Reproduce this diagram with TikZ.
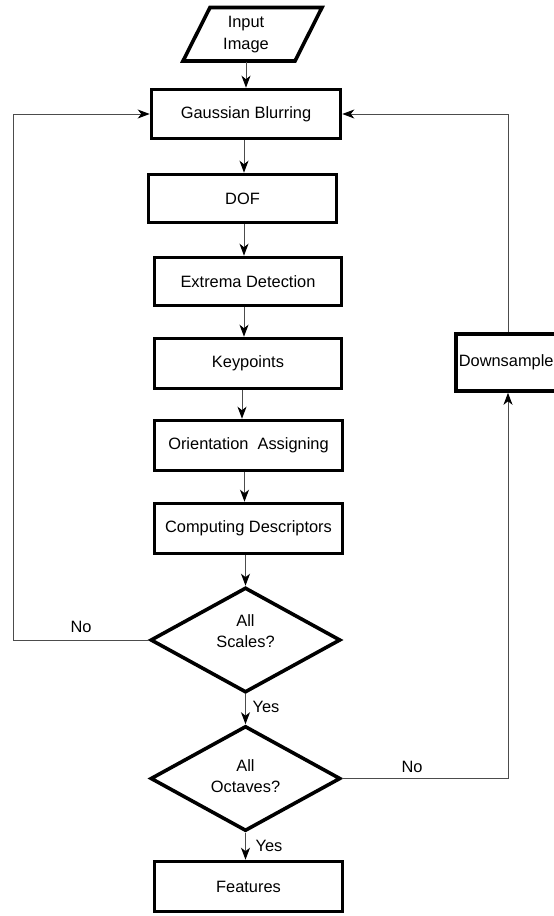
\documentclass[tikz,border=0pt]{standalone}
\usepackage{fontspec}
\setmainfont{Liberation Sans}
\usetikzlibrary{arrows.meta,shapes.geometric,calc}
\begin{document}
\begin{tikzpicture}[x=1pt,y=-1pt,
  every node/.style={font=\fontsize{16.4}{21.5}\selectfont},
  procbox/.style={draw=black,line width=3.6pt,inner sep=0pt,minimum width=188pt,minimum height=50pt},
  decide/.style={draw=black,line width=3.6pt,diamond,inner sep=0pt,minimum width=190pt,minimum height=105pt},
  flow/.style={draw=black!70,line width=1pt,-{Stealth[length=12pt,width=9pt,inset=3.5pt,color=black]}},
  lbl/.style={inner sep=0pt}]
\useasboundingbox (0,0) rectangle (554,916);
% input parallelogram
\draw[line width=3.6pt,line join=miter] (210,7.5)--(322,7.5)--(295,61)--(183,61)--cycle;
\node[inner sep=0pt,minimum height=54pt,align=center] (in) at (246,34.5) {Input\\Image};
\node[procbox,minimum width=189pt,minimum height=49pt] (gauss) at (246,114) {Gaussian Blurring};
\node[procbox,minimum height=48pt] (dof) at (242.5,198.5) {DOF};
\node[procbox,minimum width=187pt,minimum height=48pt] (ext) at (248,281.5) {Extrema Detection};
\node[procbox,minimum width=187pt] (key) at (248,363.5) {Keypoints};
\node[procbox] (ori) at (248.5,445.5) {Orientation\ \ Assigning};
\node[procbox] (comp) at (248.5,528.5) {Computing Descriptors};
\node[decide] (scales) at (245.5,640) {};
\node[lbl,align=center] (scalestxt) at (245.5,631) {All\\Scales?};
\node[decide] (oct) at (245.5,778.5) {};
\node[lbl,align=center] (octtxt) at (245.5,776) {All\\Octaves?};
\node[procbox] (feat) at (248.5,886.5) {Features};
\node[draw=black,line width=3.6pt,anchor=west,inner xsep=3pt,inner ysep=0pt,minimum height=57pt,text width=106pt,align=left] (down) at (454,362.5) {Downsample};
\coordinate (lx) at (13,0);
\coordinate (rx) at (508,0);
% labels
\node[lbl] (no1) at (81,627) {No};
\node[lbl] (yes1) at (266,707) {Yes};
\node[lbl] (no2) at (412,767) {No};
\node[lbl] (yes2) at (269,846) {Yes};
% connectors
\draw[flow] (in.south) -- (in.south |- gauss.north);
\draw[flow] ([xshift=-2pt]gauss.south) -- ([xshift=-2pt]gauss.south |- dof.north);
\draw[flow] ([xshift=1.5pt]dof.south) -- ([xshift=1.5pt]dof.south |- ext.north);
\draw[flow] ([xshift=-4pt]ext.south) -- ([xshift=-4pt]ext.south |- key.north);
\draw[flow] ([xshift=-6pt]key.south) -- ([xshift=-6pt]key.south |- ori.north);
\draw[flow] ([xshift=-4pt]ori.south) -- ([xshift=-4pt]ori.south |- comp.north);
\draw[flow] ([xshift=-3pt]comp.south) -- ([xshift=-3pt]comp.south |- scales.north);
\draw[flow] (scales.south) -- (oct.north);
\draw[flow] (oct.south) -- (oct.south |- feat.north);
\draw[flow] (scales.west) -- (scales.west -| lx) |- (gauss.west);
\draw[flow] (oct.east) -- (oct.east -| rx) -- (rx |- down.south);
\draw[flow] (rx |- down.north) |- (gauss.east);
\end{tikzpicture}
\end{document}
